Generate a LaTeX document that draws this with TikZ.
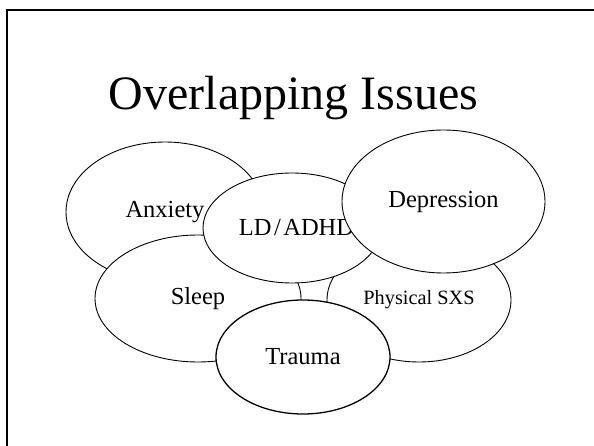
\documentclass[tikz,border=0pt]{standalone}
\usepackage{fontspec}
\setmainfont{Liberation Serif}
\usetikzlibrary{shapes.geometric}
\begin{document}
\begin{tikzpicture}[x=1pt,y=-1pt,
  bubble/.style={ellipse, draw=black, fill=white, line width=0.9pt,
    inner sep=0pt, font=\fontsize{24.5}{26}\selectfont},
  heading/.style={font=\fontsize{48}{50}\selectfont, anchor=base},
  frameline/.style={line width=2.4pt, black},
]
\useasboundingbox (0,0) rectangle (594,446);
\fill[white] (0,0) rectangle (594,446);

% slide frame (left and top edges)
\coordinate (fb) at (6.8,447);
\coordinate (fc) at (6.8,10);
\coordinate (fr) at (595,10);
\draw[frameline] (fb) -- (fc) -- (fr);

% title
\node[heading] (title) at (293.5,110) {Overlapping Issues};

% overlapping issue bubbles, back to front
\node[bubble, minimum width=198pt, minimum height=140pt] (anxiety) at (165,212) {Anxiety};
\node[bubble, minimum width=206pt, minimum height=127pt] (sleep) at (198,298.5) {Sleep};
\node[bubble, minimum width=184pt, minimum height=124pt,
  font=\fontsize{20.3}{22}\selectfont] (physical) at (419,300) {Physical SXS};
\node[bubble, minimum width=178pt, minimum height=110pt] (ld) at (292,228)
  {\hspace*{9pt}LD\kern2.5pt/\kern2.5pt ADHD};
\node[bubble, minimum width=203pt, minimum height=143pt] (depression) at (443.5,201.5) {Depression};
\node[bubble, line width=1.3pt, minimum width=174pt, minimum height=114pt] (trauma) at (303,357) {Trauma};
\end{tikzpicture}
\end{document}
